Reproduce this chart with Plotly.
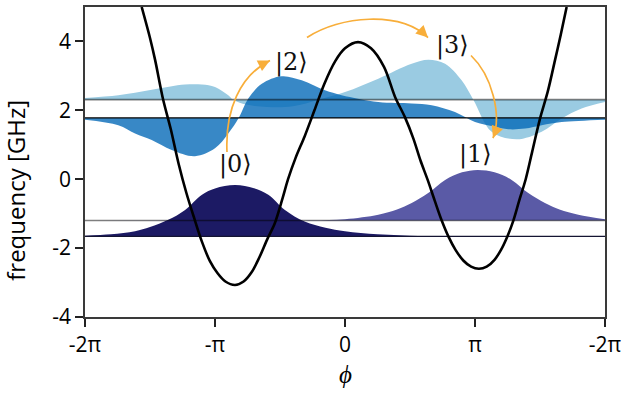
import numpy as np
import plotly.graph_objects as go

PI = np.pi

# ---------------- data (phase in units of pi, frequencies in GHz) ----------------
pot_phi = [-1.564, -1.50, -1.46, -1.40, -1.34, -1.28, -1.22, -1.16, -1.10, -1.04,
           -0.98, -0.92, -0.846, -0.78, -0.72, -0.66, -0.60, -0.54, -0.48, -0.438,
           -0.38, -0.31, -0.235, -0.16, -0.075, 0.0, 0.1, 0.2, 0.3, 0.385,
           0.46, 0.526, 0.58, 0.636, 0.69, 0.744, 0.795, 0.85, 0.91, 0.97,
           1.03, 1.09, 1.15, 1.20, 1.249, 1.295, 1.34, 1.39, 1.44, 1.5,
           1.56, 1.615, 1.66, 1.705]
pot_v = [5.0, 4.1, 3.45, 2.33, 1.45, 0.45, -0.4, -1.13, -1.82, -2.37,
         -2.73, -2.97, -3.07, -2.97, -2.71, -2.28, -1.76, -1.28, -0.55, 0.0,
         0.62, 1.25, 2.0, 2.76, 3.43, 3.80, 3.98, 3.80, 3.26, 2.39,
         1.81, 1.18, 0.55, -0.02, -0.62, -1.2, -1.66, -2.05, -2.36, -2.54,
         -2.6, -2.54, -2.34, -2.05, -1.66, -1.2, -0.62, 0.0, 0.8, 1.76,
         2.55, 3.45, 4.2, 5.0]

level_names = ["0", "1", "2", "3"]
level_energy = [-1.66, -1.20, 1.78, 2.31]

psi0_phi = [-2.0, -1.8, -1.615, -1.5, -1.36, -1.23, -1.10, -1.0, -0.846, -0.7, -0.59,
            -0.462, -0.31, -0.15, 0.0, 0.25, 0.5, 0.75, 1.0, 1.5, 2.0]
psi0_amp = [0.02, 0.06, 0.15, 0.27, 0.48, 0.77, 1.21, 1.39, 1.49, 1.40, 1.21,
            0.77, 0.43, 0.25, 0.15, 0.06, 0.02, 0.0, 0.0, 0.0, 0.0]

psi1_phi = [-2.0, -0.5, -0.25, 0.0, 0.256, 0.4, 0.513, 0.64, 0.77, 0.9, 1.02,
            1.15, 1.282, 1.41, 1.538, 1.65, 1.795, 2.0]
psi1_amp = [0.0, 0.0, 0.01, 0.04, 0.17, 0.32, 0.51, 0.80, 1.18, 1.40, 1.47,
            1.40, 1.18, 0.80, 0.51, 0.32, 0.17, 0.04]

psi2_phi = [-2.0, -1.744, -1.615, -1.487, -1.333, -1.154, -1.0, -0.898, -0.82, -0.744,
            -0.64, -0.487, -0.333, -0.154, -0.026, 0.256, 0.513, 0.667, 0.846,
            1.0, 1.154, 1.256, 1.385, 1.513, 1.667, 2.0]
psi2_amp = [-0.05, -0.21, -0.45, -0.64, -0.93, -1.11, -0.88, -0.45, -0.02, 0.56,
            0.99, 1.21, 1.09, 0.80, 0.66, 0.46, 0.42, 0.37, 0.17,
            -0.12, -0.26, -0.33, -0.31, -0.21, -0.12, -0.05]

psi3_phi = [-2.0, -1.744, -1.487, -1.231, -1.1, -1.0, -0.898, -0.86, -0.75, -0.6,
            -0.4, -0.2, 0.0, 0.256, 0.513, 0.641, 0.77, 0.897, 0.987, 1.128,
            1.32, 1.513, 1.667, 1.82, 2.0]
psi3_amp = [0.05, 0.13, 0.29, 0.44, 0.44, 0.37, 0.13, 0.0, -0.15, -0.21,
            -0.19, 0.0, 0.22, 0.61, 1.04, 1.16, 1.04, 0.56, 0.0, -0.93,
            -1.15, -0.93, -0.55, -0.26, -0.07]

x_tickvals = [-2, -1, 0, 1, 2]
x_ticktext = ["-2π", "-π", "0", "π", "-2π"]
y_tickvals = [-4, -2, 0, 2, 4]
y_ticktext = ["-4", "-2", "0", "2", "4"]

# ---------------- styles ----------------
fills = {
    "3": "#9ACBE2",
    "2": "rgba(0,103,182,0.78)",
    "1": "#5A5AA6",
    "0": "#1C1A64",
}
level_line = {
    "0": dict(color="#141432", width=1.3),
    "1": dict(color="rgba(0,0,0,0.5)", width=1.6),
    "2": dict(color="#000000", width=1.3),
    "3": dict(color="rgba(0,0,0,0.5)", width=1.6),
}
waves = {"0": (psi0_phi, psi0_amp), "1": (psi1_phi, psi1_amp),
         "2": (psi2_phi, psi2_amp), "3": (psi3_phi, psi3_amp)}
ORANGE = "#F8AE3A"

fig = go.Figure()

for name in ["3", "2", "1", "0"]:
    E = level_energy[level_names.index(name)]
    ph, amp = waves[name]
    xs = [p * PI for p in ph]
    fig.add_trace(go.Scatter(x=xs, y=[E] * len(xs), mode="lines",
                             line=dict(width=0), hoverinfo="skip", showlegend=False))
    fig.add_trace(go.Scatter(x=xs, y=[E + a for a in amp], mode="lines",
                             line=dict(width=0, shape="spline", smoothing=1.0),
                             fill="tonexty", fillcolor=fills[name],
                             hoverinfo="skip", showlegend=False))

for name, E in zip(level_names, level_energy):
    fig.add_trace(go.Scatter(x=[-2 * PI, 2 * PI], y=[E, E], mode="lines",
                             line=level_line[name], hoverinfo="skip", showlegend=False))

fig.add_trace(go.Scatter(x=[p * PI for p in pot_phi], y=pot_v, mode="lines",
                         line=dict(color="black", width=2.6, shape="spline", smoothing=0.9),
                         hoverinfo="skip", showlegend=False))

# ---------------- curved arrows ----------------
arrows = [
    [(-2.8516, 0.789), (-2.900, 2.003), (-2.5374, 3.014), (-1.8124, 3.448), (-9, 4.5)],
    [(-0.9183, 4.113), (-0.1208, 4.749), (1.3291, 4.893), (2.0058, 4.113), (-7.2, -6.9)],
    [(3.0449, 3.592), (3.5524, 3.014), (3.7941, 1.858), (3.5766, 1.194), (3.6, -9.3)],
]
shapes = []
annotations = []
for p0, p1, p2, p3, off in arrows:
    shapes.append(dict(type="path", xref="x", yref="y", layer="above",
                       path=f"M {p0[0]},{p0[1]} C {p1[0]},{p1[1]} {p2[0]},{p2[1]} {p3[0]},{p3[1]}",
                       line=dict(color=ORANGE, width=1.7)))
    annotations.append(dict(x=p3[0], y=p3[1], xref="x", yref="y", ax=off[0], ay=off[1],
                            text="", showarrow=True, arrowhead=2, arrowsize=1.4,
                            arrowwidth=1.7, arrowcolor=ORANGE))

ket_pos = {"0": (-2.645, 0.44), "1": (3.154, 0.717), "2": (-1.305, 3.375), "3": (2.598, 3.88)}
for name, (kx, ky) in ket_pos.items():
    annotations.append(dict(x=kx, y=ky, xref="x", yref="y", text=f"|{name}⟩",
                            showarrow=False, xanchor="center", yanchor="middle",
                            font=dict(family="DejaVu Serif", size=24, color="#111")))

annotations.append(dict(x=-0.133, y=0.41, xref="paper", yref="paper", text="frequency [GHz]",
                        textangle=-90, showarrow=False, xanchor="center", yanchor="middle",
                        font=dict(family="Open Sans", size=24, color="black")))
annotations.append(dict(x=0.5, y=-0.182, xref="paper", yref="paper", text="<i>ϕ</i>",
                        showarrow=False, xanchor="center", yanchor="middle",
                        font=dict(family="Open Sans", size=25, color="black")))

axis_common = dict(showgrid=False, zeroline=False, showline=True, linecolor="#3a3a3a",
                   linewidth=1.6, mirror=True, ticks="outside", ticklen=8, tickwidth=1.5,
                   tickcolor="#222", automargin=False,
                   tickfont=dict(family="Open Sans", size=21, color="black"))

fig.update_layout(
    width=622, height=396,
    margin=dict(l=85, r=17, t=7, b=79),
    plot_bgcolor="white", paper_bgcolor="white",
    xaxis=dict(range=[-2 * PI, 2 * PI], tickvals=[v * PI for v in x_tickvals],
               ticktext=x_ticktext, **axis_common),
    yaxis=dict(range=[-4, 5], tickvals=y_tickvals, ticktext=y_ticktext, **axis_common),
    shapes=shapes, annotations=annotations, showlegend=False,
)

fig.write_html("out.html", config={"displayModeBar": False},
               post_script="document.body.style.margin='0';document.body.style.padding='0';"
                           "document.body.style.overflow='hidden';")
